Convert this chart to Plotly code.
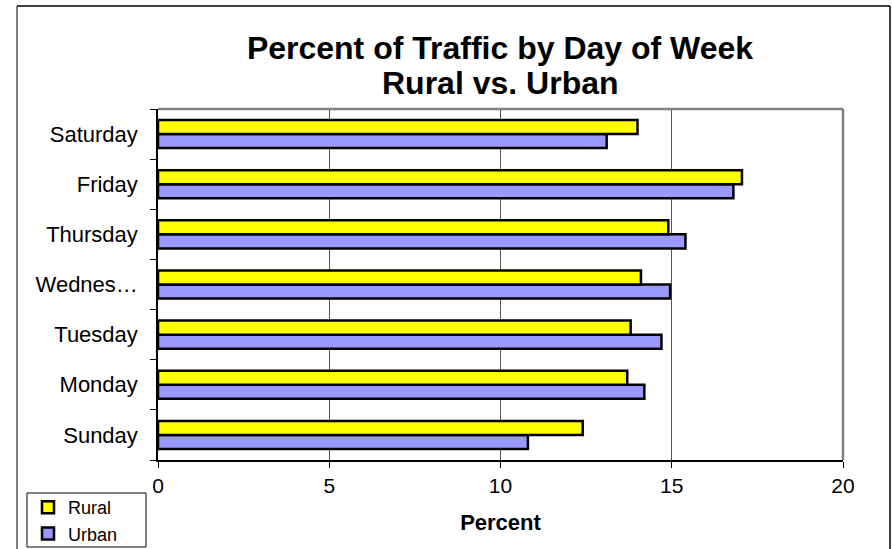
import plotly.graph_objects as go

days = ["Sunday", "Monday", "Tuesday", "Wednesday", "Thursday", "Friday", "Saturday"]
day_labels = ["Sunday", "Monday", "Tuesday", "Wednes…", "Thursday", "Friday", "Saturday"]
rural = [12.4, 13.7, 13.8, 14.1, 14.9, 17.05, 14.0]
urban = [10.8, 14.2, 14.7, 14.95, 15.4, 16.8, 13.1]
x_ticks = [0, 5, 10, 15, 20]
title_line1 = "Percent of Traffic by Day of Week"
title_line2 = "Rural vs. Urban"

W, H = 892, 549
L, R, T, B = 158, 843, 109, 460
pw, ph = R - L, B - T


def px(x):
    return (x - L) / pw


def py(y):
    return (B - y) / ph


FONT = "Liberation Sans, Arial, sans-serif"

fig = go.Figure()
fig.add_trace(go.Bar(
    y=days, x=urban, orientation="h", name="Urban",
    marker=dict(color="#9999FF", line=dict(color="black", width=2.5)),
    legendrank=2,
))
fig.add_trace(go.Bar(
    y=days, x=rural, orientation="h", name="Rural",
    marker=dict(color="#FFFF00", line=dict(color="black", width=2.5)),
    legendrank=1,
))

shapes = [
    # outer chart border
    dict(type="line", xref="paper", yref="paper", x0=px(17), x1=px(17), y0=py(6), y1=py(560),
         line=dict(color="#808080", width=2)),
    dict(type="line", xref="paper", yref="paper", x0=px(17), x1=px(890), y0=py(6), y1=py(6),
         line=dict(color="black", width=1.5)),
    dict(type="line", xref="paper", yref="paper", x0=px(890), x1=px(890), y0=py(6), y1=py(560),
         line=dict(color="black", width=1.5)),
    # plot frame top/right
    dict(type="line", xref="paper", yref="paper", x0=0, x1=1, y0=1, y1=1,
         line=dict(color="#808080", width=2.5)),
    dict(type="line", xref="paper", yref="paper", x0=1, x1=1, y0=0, y1=1,
         line=dict(color="#808080", width=2.5)),
    # legend box
    dict(type="rect", xref="paper", yref="paper", x0=px(27), x1=px(146), y0=py(547), y1=py(493),
         line=dict(color="black", width=1), fillcolor="rgba(0,0,0,0)"),
]

fig.update_layout(
    width=W, height=H,
    margin=dict(l=L, r=W - R, t=T, b=H - B, pad=0, autoexpand=False),
    paper_bgcolor="white", plot_bgcolor="white",
    barmode="group", bargap=0.44, bargroupgap=0,
    font=dict(family=FONT, color="black", size=22),
    title=dict(
        text="<b>" + title_line1 + "</b>",
        font=dict(family=FONT, size=32, color="black"),
        x=500 / W, xanchor="center", xref="container",
        y=1 - 48 / H, yanchor="middle", yref="container",
    ),
    annotations=[dict(
        text="<b>" + title_line2 + "</b>", showarrow=False,
        font=dict(family=FONT, size=32, color="black"),
        xref="paper", yref="paper", x=px(500), y=py(83),
        xanchor="center", yanchor="middle",
    )],
    xaxis=dict(
        range=[0, 20], tickvals=x_ticks, ticktext=[str(v) for v in x_ticks],
        showgrid=True, gridcolor="#555555", gridwidth=1,
        showline=True, linecolor="black", linewidth=1.5,
        ticks="outside", ticklen=6, tickcolor="black", tickwidth=1,
        zeroline=False, tickfont=dict(size=21),
        title=dict(text="<b>Percent</b>", font=dict(size=22), standoff=19),
        fixedrange=True,
    ),
    yaxis=dict(
        categoryorder="array", categoryarray=days,
        tickvals=days, ticktext=day_labels,
        showgrid=False, showline=True, linecolor="black", linewidth=1.5,
        ticks="outside", ticklen=6, tickcolor="black", tickwidth=1,
        tickson="boundaries", ticklabelstandoff=14,
        tickfont=dict(size=22), zeroline=False, fixedrange=True,
    ),
    legend=dict(
        xref="container", yref="container",
        x=28 / W, y=1 - 489 / H, xanchor="left", yanchor="top",
        bgcolor="rgba(0,0,0,0)", borderwidth=0,
        font=dict(size=18), traceorder="normal",
        itemwidth=30, tracegroupgap=0,
    ),
    showlegend=True,
    shapes=shapes,
)

fig.write_html(
    "out.html",
    config={"displayModeBar": False, "staticPlot": False},
    post_script="document.body.style.margin='0';document.body.style.overflow='hidden';",
)
